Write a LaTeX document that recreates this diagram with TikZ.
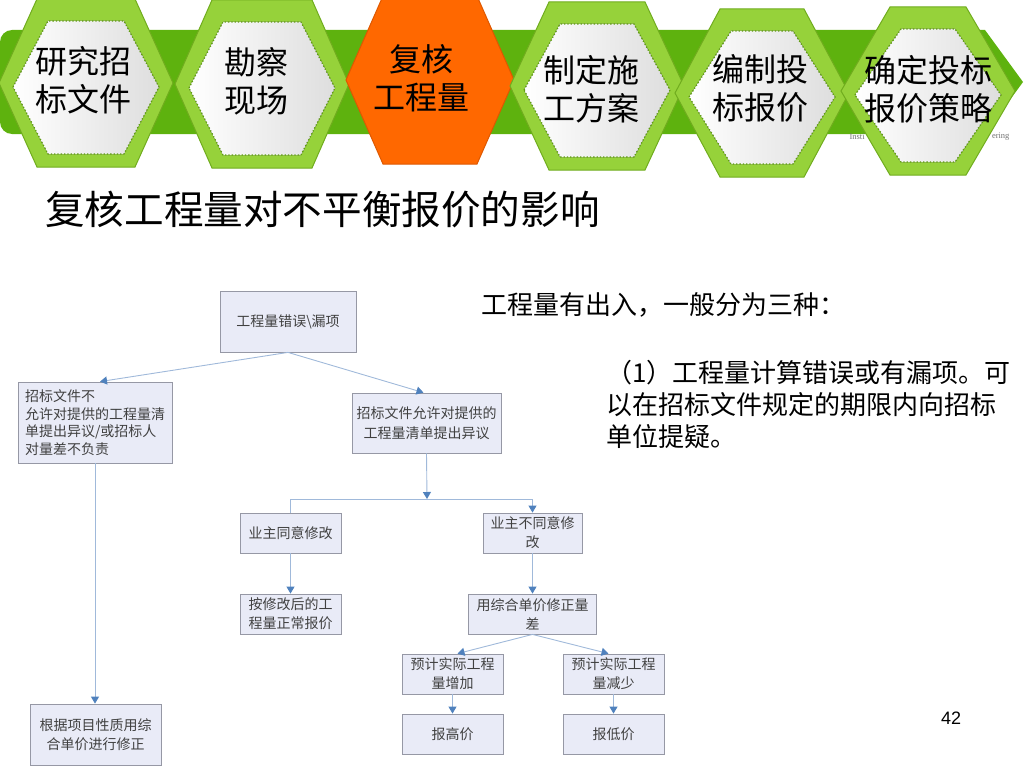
\documentclass[tikz,border=0pt]{standalone}
\usepackage{fontspec}
\setmainfont{Noto Sans CJK SC}
\newfontfamily\numfont{Liberation Sans}
\newfontfamily\wmfont{Liberation Serif}
\usepackage{xcolor}
\usetikzlibrary{arrows.meta,positioning}
\definecolor{bandgreen}{RGB}{94,178,14}
\definecolor{hexgreen}{RGB}{150,210,58}
\definecolor{hexedge}{RGB}{112,172,30}
\definecolor{dotgreen}{RGB}{96,156,20}
\definecolor{hexorange}{RGB}{255,104,0}
\definecolor{orangeedge}{RGB}{222,88,0}
\definecolor{boxfill}{RGB}{233,235,247}
\definecolor{boxedge}{RGB}{150,152,165}
\definecolor{linkblue}{RGB}{160,185,218}
\definecolor{tipblue}{RGB}{79,129,189}
\tikzstyle{block} = [rectangle, draw = boxedge, fill = boxfill, text = black!75, align = center, inner sep = 2pt, line width = 0.8pt, font = \fontsize{14}{19}\selectfont, minimum width = 101pt, minimum height = 40pt]
\tikzstyle{line} = [draw = linkblue, line width = 0.9pt, -{Triangle[width = 8pt, length = 7pt, color = tipblue]}]
\tikzstyle{link} = [draw = linkblue, line width = 0.9pt]
\tikzstyle{hextext} = [align = center, font = \fontsize{32}{38}\selectfont]
% centre x, centre y, half length of the flat edge
\newcommand{\hexcell}[3]{%
  \begin{scope}[shift = {(#1,#2)}]
    \filldraw[fill = hexgreen, draw = hexedge, line width = 1pt] (-87,0) -- (-#3,-84) -- (#3,-84) -- (87,0) -- (#3,84) -- (-#3,84) -- cycle;
    \filldraw[left color = white, right color = black!13, draw = dotgreen, dotted, line width = 1.3pt] (-73,4) -- (-#3+11,-62) -- (#3-11,-62) -- (73,4) -- (#3-11,71) -- (-#3+11,71) -- cycle;
  \end{scope}}

\begin{document}
\begin{tikzpicture}[x = 1pt, y = -1pt]
        \useasboundingbox (0,0) rectangle (1024,768);
        % banner
        \fill[bandgreen] (1023,82) -- (985,134) {[rounded corners = 12pt] -- (0,134) -- (0,30)} -- (985,30) -- cycle;
        \node (wmleft) [anchor = west, text = black!55, font = \wmfont\fontsize{8.5}{8.5}\selectfont] at (846,137) {Insti};
        \node (wmright) [anchor = east, text = black!55, font = \wmfont\fontsize{8.5}{8.5}\selectfont] at (1013,137) {ering};
        \hexcell{86}{83}{49}
        \node (study) [hextext] at (83,80) {研究招\\标文件};
        \hexcell{262}{84}{50}
        \node (survey) [hextext] at (256,81) {勘察\\现场};
        \filldraw[fill = hexorange, draw = orangeedge, line width = 1pt] (346,80) -- (383,-4) -- (477,-4) -- (514,80) -- (477,164) -- (383,164) -- cycle;
        \node (check) [hextext] at (421,78) {复核\\工程量};
        \hexcell{597}{86}{48}
        \node (plan) [hextext] at (591,89) {制定施\\工方案};
        \hexcell{762}{93}{42}
        \node (price) [hextext] at (760,88) {编制投\\标报价};
        \hexcell{928}{91}{38}
        \node (tactic) [hextext] at (928,89) {确定投标\\报价策略};
        % texts
        \node (title) [anchor = west, inner sep = 0pt, font = \fontsize{39.6}{40}\selectfont] at (45,210) {复核工程量对不平衡报价的影响};
        \node (intro) [anchor = west, inner sep = 0pt, font = \fontsize{26}{32}\selectfont] at (481,305) {工程量有出入，一般分为三种：};
        \node (point) [anchor = west, inner sep = 0pt, align = left, font = \fontsize{26}{32}\selectfont] at (606,404) {（1）工程量计算错误或有漏项。可\\以在招标文件规定的期限内向招标\\单位提疑。};
        \node (pagenum) [font = \numfont\fontsize{18}{18}\selectfont] at (951,718) {42};
        % flow chart
        \node (err) [block, minimum width = 136pt, minimum height = 61pt] at (288,321.5) {工程量错误\textbackslash 漏项};
        \node (deny) [block, align = left, minimum width = 154pt, minimum height = 81pt, font = \fontsize{14}{17.5}\selectfont] at (95,422.5) {招标文件不\\允许对提供的工程量清\\单提出异议/或招标人\\对量差不负责};
        \node (allow) [block, minimum width = 149pt, minimum height = 60pt, font = \fontsize{14}{20}\selectfont] at (426.5,423) {招标文件允许对提供的\\工程量清单提出异议};
        \coordinate (split) at (427,499);
        \node (agree) [block] at (290.5,533) {业主同意修改};
        \node (refuse) [block, minimum width = 99pt] at (532.5,533) {业主不同意修\\改};
        \node (normal) [block, below of = agree, node distance = 81pt] {按修改后的工\\程量正常报价};
        \node (adjust) [block, below of = refuse, node distance = 81pt, minimum width = 128pt] {用综合单价修正量\\差};
        \node (more) [block] at (452.5,674) {预计实际工程\\量增加};
        \node (less) [block, right of = more, node distance = 161pt] {预计实际工程\\量减少};
        \node (high) [block, below of = more, node distance = 60pt] {报高价};
        \node (low) [block, below of = less, node distance = 60pt] {报低价};
        \node (fix) [block, minimum width = 131pt, minimum height = 61pt] at (95.5,734.5) {根据项目性质用综\\合单价进行修正};
        \draw[line] (err.south) -- ([xshift = 5pt]deny.north);
        \draw[line] (err.south) -- ([xshift = -3pt]allow.north);
        \draw[line] (allow.south) -- (split);
        \draw[link] (split) -| (agree.north);
        \draw[line] (split) -| (refuse.north);
        \draw[line] (deny.south) -- (deny.south |- fix.north);
        \draw[line] (agree) -- (normal);
        \draw[line] (refuse) -- (adjust);
        \draw[line] (adjust.south) -- ([xshift = 5pt]more.north);
        \draw[line] (adjust.south) -- ([xshift = -5pt]less.north);
        \draw[line] (more) -- (high);
        \draw[line] (less) -- (low);
    \end{tikzpicture}
\end{document}
